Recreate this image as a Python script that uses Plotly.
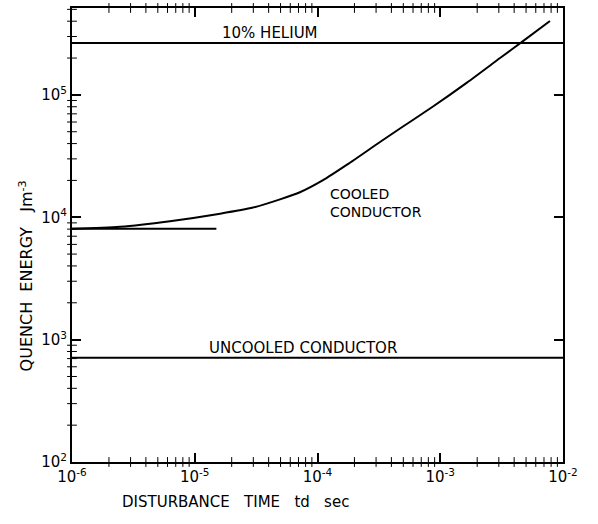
import plotly.graph_objects as go

# Cooled conductor curve (disturbance time td [s], quench energy [J/m^3])
cooled_t = [1e-6, 2.46e-6, 6.28e-6, 1.61e-5, 2.99e-5, 4.95e-5, 7.19e-5, 1.10e-4, 1.74e-4,
            3.23e-4, 4.70e-4, 8.73e-4, 1.65e-3, 3.07e-3, 4.72e-3, 7.83e-3]
cooled_E = [8.05e3, 8.36e3, 9.29e3, 1.07e4, 1.20e4, 1.40e4, 1.60e4, 2.0e4, 2.69e4,
            4.12e4, 5.31e4, 8.04e4, 1.26e5, 2.0e5, 2.75e5, 4.02e5]

# Short low-time asymptote
short_t = [1e-6, 1.5e-5]
short_E = [8.05e3, 8.05e3]

# Horizontal limits
helium_t = [1e-6, 1e-2]
helium_E = [2.66e5, 2.66e5]
uncooled_t = [1e-6, 1e-2]
uncooled_E = [7.1e2, 7.1e2]

# Axis ticks
x_exps = [-6, -5, -4, -3, -2]
y_exps = [2, 3, 4, 5]
x_ticktext = ["10<sup>-6</sup>", "10<sup>-5</sup>", "10<sup>-4</sup>", "10<sup>-3</sup>", "10<sup>-2</sup>"]
y_ticktext = ["10<sup>2</sup>", "10<sup>3</sup>", "10<sup>4</sup>", "10<sup>5</sup>"]

X_RANGE = [-6, -2]
Y_RANGE = [2, 5.71]

line = dict(color="black", width=2)
fig = go.Figure()
fig.add_trace(go.Scatter(x=cooled_t, y=cooled_E, mode="lines",
                         line=dict(color="black", width=2, shape="spline", smoothing=0.7), showlegend=False))
for xs, ys in [(short_t, short_E), (helium_t, helium_E), (uncooled_t, uncooled_E)]:
    fig.add_trace(go.Scatter(x=xs, y=ys, mode="lines", line=line, showlegend=False))

# Minor tick marks on all four frame edges (drawn as tick-shaped markers)
minor_x = [m * 10.0 ** e for e in range(-6, -2) for m in range(2, 10)]
minor_y = [m * 10.0 ** e for e in range(2, 6) for m in range(2, 10)]
x_lo, x_hi = 10.0 ** X_RANGE[0], 10.0 ** X_RANGE[1]
y_lo, y_hi = 10.0 ** Y_RANGE[0], 10.0 ** Y_RANGE[1]
tick_marker_v = dict(symbol="line-ns", size=7, color="black", line=dict(width=1, color="black"))
tick_marker_h = dict(symbol="line-ew", size=7, color="black", line=dict(width=1, color="black"))
for yy in (y_lo, y_hi):
    fig.add_trace(go.Scatter(x=minor_x, y=[yy] * len(minor_x), mode="markers", marker=tick_marker_v,
                             cliponaxis=False, showlegend=False, hoverinfo="skip"))
for xx in (x_lo, x_hi):
    fig.add_trace(go.Scatter(x=[xx] * len(minor_y), y=minor_y, mode="markers", marker=tick_marker_h,
                             cliponaxis=False, showlegend=False, hoverinfo="skip"))

font = dict(family="DejaVu Sans", size=14, color="black")
ax_common = dict(
    type="log", showgrid=False, zeroline=False, showline=True, linecolor="black", linewidth=2,
    mirror="ticks", ticks="inside", ticklen=9, tickwidth=1.5, tickcolor="black",
    tickmode="array", tickfont=dict(family="DejaVu Sans", size=15, color="black"),
)

fig.update_layout(
    xaxis=dict(range=X_RANGE, tickvals=[10.0 ** e for e in x_exps], ticktext=x_ticktext, **ax_common),
    yaxis=dict(range=Y_RANGE, tickvals=[10.0 ** e for e in y_exps], ticktext=y_ticktext, **ax_common),
)

fig.add_annotation(x=-4.387, y=5.506, xref="x", yref="y", text="10% HELIUM", showarrow=False,
                   font=dict(family="DejaVu Sans", size=15, color="black"))
fig.add_annotation(x=-3.914, y=4.192, xref="x", yref="y", text="COOLED", showarrow=False, font=font, xanchor="left")
fig.add_annotation(x=-3.914, y=4.045, xref="x", yref="y", text="CONDUCTOR", showarrow=False, font=font, xanchor="left")
fig.add_annotation(x=-4.118, y=2.935, xref="x", yref="y", text="UNCOOLED CONDUCTOR", showarrow=False,
                   font=dict(family="DejaVu Sans", size=15, color="black"))

fig.add_annotation(x=-0.118, y=0.41, xref="paper", yref="paper", text="QUENCH  ENERGY   Jm<sup>-3</sup>",
                   textangle=-90, showarrow=False, font=dict(family="DejaVu Sans", size=16, color="black"))
fig.add_annotation(x=0.334, y=-0.112, xref="paper", yref="paper", text="DISTURBANCE   TIME   td   sec",
                   showarrow=False, font=dict(family="DejaVu Sans", size=15, color="black"))

fig.update_layout(
    width=598, height=524, margin=dict(l=72, r=35, t=8, b=62, autoexpand=False),
    paper_bgcolor="white", plot_bgcolor="white",
)
fig.write_html("out.html")
